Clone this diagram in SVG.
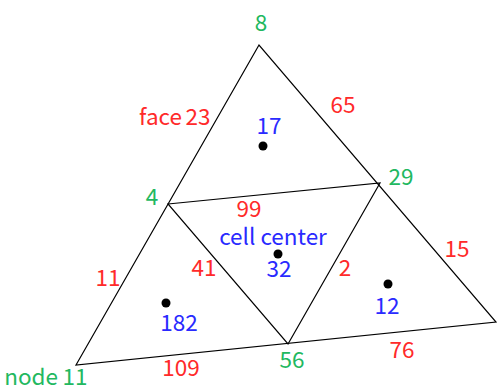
<svg xmlns="http://www.w3.org/2000/svg" width="497" height="390" viewBox="0 0 497 390">
<style>
text{font-family:"Noto Sans CJK JP","Noto Sans",sans-serif;font-size:22.5px}
.n{fill:#22b860}.f{fill:#ff2a2a}.c{fill:#2a2aff}
.e{stroke:#000;stroke-width:1.2;fill:none}
</style>
<rect width="497" height="390" fill="#fff"/>
<g id="connectors">
<path class="e" d="M76,365 L259,45 L496,322 Z"/>
<path class="e" d="M168,204 L380,183 L288,344 Z"/>
</g>
<g id="cell17"><circle cx="263" cy="146" r="4.5"/><text class="c" x="269" y="134" text-anchor="middle">17</text></g>
<g id="cell32"><circle cx="278" cy="254" r="4.5"/><text class="c" x="273" y="245" text-anchor="middle">cell center</text><text class="c" x="279" y="277" text-anchor="middle">32</text></g>
<g id="cell182"><circle cx="166" cy="303" r="4.5"/><text class="c" x="179" y="331" text-anchor="middle">182</text></g>
<g id="cell12"><circle cx="388" cy="284" r="4.5"/><text class="c" x="387" y="314" text-anchor="middle">12</text></g>
<g id="node8"><text class="n" x="261" y="31" text-anchor="middle">8</text></g>
<g id="node4"><text class="n" x="152" y="205" text-anchor="middle">4</text></g>
<g id="node29"><text class="n" x="401" y="185" text-anchor="middle">29</text></g>
<g id="node56"><text class="n" x="292" y="368" text-anchor="middle">56</text></g>
<g id="node11"><text class="n" x="58" y="385" text-anchor="end">node</text><text class="n" x="75" y="385" text-anchor="middle">11</text></g>
<g id="face23"><text class="f" x="182" y="125" text-anchor="end">face</text><text class="f" x="198" y="125" text-anchor="middle">23</text></g>
<g id="face65"><text class="f" x="343" y="113" text-anchor="middle">65</text></g>
<g id="face99"><text class="f" x="249" y="217" text-anchor="middle">99</text></g>
<g id="face41"><text class="f" x="204" y="276" text-anchor="middle">41</text></g>
<g id="face2"><text class="f" x="345" y="276" text-anchor="middle">2</text></g>
<g id="face15"><text class="f" x="457" y="257" text-anchor="middle">15</text></g>
<g id="face11"><text class="f" x="108" y="286" text-anchor="middle">11</text></g>
<g id="face109"><text class="f" x="181" y="376" text-anchor="middle">109</text></g>
<g id="face76"><text class="f" x="402" y="358" text-anchor="middle">76</text></g>
</svg>
